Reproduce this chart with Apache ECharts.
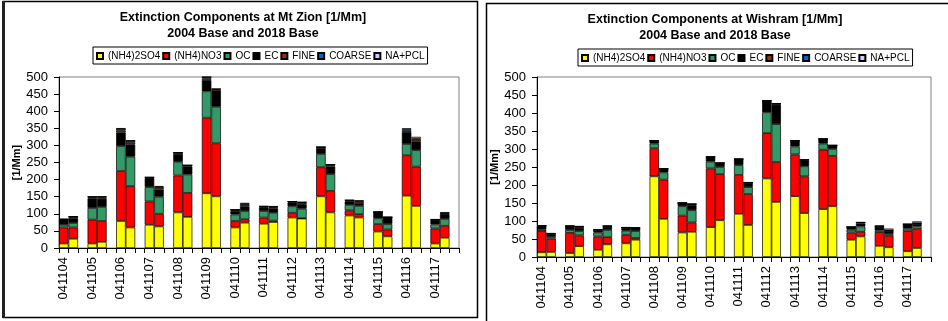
<!DOCTYPE html>
<html>
<head>
<meta charset="utf-8">
<script src="https://cdn.jsdelivr.net/npm/echarts@6/dist/echarts.min.js"></script>
<style>
  html, body { margin: 0; padding: 0; background: #fff; }
  #chart { width: 948px; height: 321px; }
</style>
</head>
<body>
<div id="chart"></div>
<script>
// sample dates, each has a 2004 base bar and a 2018 base bar
const dates = ['041104', '041105', '041106', '041107', '041108', '041109', '041110',
  '041111', '041112', '041113', '041114', '041115', '041116', '041117'];
const components = ['(NH4)2SO4', '(NH4)NO3', 'OC', 'EC', 'FINE', 'COARSE', 'NA+PCL'];
const compColors = ['#FFFF00', '#FF0000', '#339966', '#000000', '#993300', '#0066CC', '#CCCCFF'];
const yTicks = [0, 50, 100, 150, 200, 250, 300, 350, 400, 450, 500];

// Mt Zion, pairs per date: [2004, 2018]
const zionSO4 = [13, 27, 13, 18, 79, 60, 68, 63, 104, 91, 160, 151, 60, 74, 71, 76, 89, 86, 151, 104, 95, 89, 48, 34, 153, 123, 13, 30];
const zionNO3 = [47, 33, 70, 61, 146, 121, 68, 37, 108, 70, 221, 155, 19, 10, 18, 4, 14, 1, 85, 63, 15, 10, 22, 20, 118, 115, 44, 35];
const zionOC = [8, 13, 34, 41, 73, 86, 42, 50, 40, 54, 77, 107, 19, 24, 19, 23, 19, 28, 39, 49, 16, 24, 17, 16, 33, 48, 12, 20];
const zionEC = [15, 14, 28, 24, 40, 36, 25, 21, 23, 23, 33, 47, 10, 14, 10, 13, 11, 13, 17, 22, 10, 8, 18, 19, 35, 26, 12, 14];
const zionFINE = [1, 4, 3, 4, 6, 6, 1, 5, 4, 3, 5, 3, 3, 4, 2, 3, 2, 4, 3, 4, 2, 5, 0, 1, 4, 6, 1, 2];
const zionCOARSE = [0, 1, 2, 2, 5, 5, 3, 3, 0, 1, 4, 2, 1, 3, 2, 2, 1, 2, 0, 2, 2, 2, 0, 0, 4, 2, 1, 1];
const zionNAPCL = [0, 0, 0, 0, 1, 0, 0, 2, 0, 0, 0, 0, 0, 3, 0, 1, 0, 0, 0, 0, 0, 0, 0, 0, 3, 5, 1, 3];

// Wishram
const wishSO4 = [13, 14, 11, 30, 20, 35, 38, 48, 224, 106, 68, 70, 83, 102, 120, 89, 218, 153, 169, 122, 133, 141, 48, 57, 31, 27, 16, 25];
const wishNO3 = [59, 37, 56, 30, 37, 20, 24, 5, 78, 109, 47, 26, 163, 128, 108, 86, 126, 111, 116, 102, 165, 140, 20, 13, 38, 32, 56, 53];
const wishOC = [4, 5, 8, 12, 11, 20, 11, 19, 13, 20, 26, 34, 19, 20, 27, 19, 58, 105, 22, 28, 17, 19, 8, 15, 5, 5, 7, 7];
const wishEC = [10, 7, 10, 9, 7, 9, 8, 8, 7, 9, 9, 14, 12, 10, 16, 12, 31, 54, 15, 16, 12, 10, 7, 8, 10, 8, 11, 7];
const wishFINE = [1, 1, 1, 3, 1, 2, 1, 1, 1, 1, 0, 3, 1, 1, 1, 1, 1, 3, 1, 2, 1, 0, 0, 3, 1, 1, 1, 1];
const wishCOARSE = [0, 1, 0, 1, 0, 0, 0, 0, 0, 0, 0, 0, 0, 0, 0, 0, 0, 0, 0, 0, 0, 0, 0, 0, 0, 1, 0, 1];
const wishNAPCL = [0, 1, 0, 0, 0, 0, 0, 0, 0, 0, 0, 0, 0, 0, 0, 0, 0, 0, 0, 0, 0, 0, 0, 0, 3, 5, 0, 5];

// three slots per date: 2004 bar, 2018 bar, empty gap
const categories = [];
dates.forEach(d => categories.push(d, d + ' 2018', d + ' gap'));

const toSlots = (pairs) => {
    const out = [];
    for (let i = 0; i < pairs.length; i += 2) out.push(pairs[i], pairs[i + 1], '-');
    return out;
};

const zion = [zionSO4, zionNO3, zionOC, zionEC, zionFINE, zionCOARSE, zionNAPCL];
const wish = [wishSO4, wishNO3, wishOC, wishEC, wishFINE, wishCOARSE, wishNAPCL];

const font = 'Arial, "Liberation Sans", sans-serif';

const makeX = (gridIndex) => ({
    type: 'category',
    gridIndex,
    data: categories,
    axisLine: { lineStyle: { color: '#000', width: 1 } },
    axisTick: { show: true, interval: 0, length: 5, lineStyle: { color: '#000' } },
    axisLabel: { interval: 2, rotate: 90, margin: 9, color: '#000', fontSize: 13, fontFamily: font }
});

const makeY = (gridIndex) => ({
    type: 'value',
    gridIndex,
    min: 0, max: 500, interval: 50,
    name: '[1/Mm]',
    nameLocation: 'middle',
    nameRotate: 90,
    nameGap: 36,
    nameTextStyle: { fontSize: 11, fontWeight: 'bold', color: '#000', fontFamily: font },
    axisLine: { show: true, lineStyle: { color: '#000', width: 1 } },
    axisTick: { show: true, length: 5, lineStyle: { color: '#000' } },
    axisLabel: { margin: 11, color: '#000', fontSize: 13, fontFamily: font },
    splitLine: { show: false }
});

const makeSeries = (vals, idx, stack) => vals.map((arr, i) => ({
    name: components[i],
    type: 'bar',
    stack,
    xAxisIndex: idx,
    yAxisIndex: idx,
    barCategoryGap: '0%',
    data: toSlots(arr),
    itemStyle: { color: compColors[i], borderColor: '#000', borderWidth: 0.7 },
    emphasis: { disabled: true }
}));

const legendBase = {
    data: components,
    icon: 'rect',
    orient: 'horizontal',
    itemWidth: 6,
    itemHeight: 6,
    itemGap: 2,
    padding: [4, 3, 3, 3],
    borderColor: '#000',
    borderWidth: 1,
    textStyle: { fontSize: 10, color: '#000', fontFamily: font }
};

const titleStyle = { fontSize: 12.5, fontWeight: 'bold', color: '#000', fontFamily: font, lineHeight: 15.5 };

const chart = echarts.init(document.getElementById('chart'), null, { renderer: 'canvas' });

chart.setOption({
    animation: false,
    backgroundColor: '#fff',
    textStyle: { fontFamily: font },
    title: [
        { text: 'Extinction Components at Mt Zion [1/Mm]\n2004 Base and 2018 Base', left: 243, top: 10, textAlign: 'center', textStyle: titleStyle, padding: 0 },
        { text: 'Extinction Components at Wishram [1/Mm]\n2004 Base and 2018 Base', left: 715, top: 12, textAlign: 'center', textStyle: titleStyle, padding: 0 }
    ],
    legend: [
        Object.assign({}, legendBase, { left: 93, top: 47 }),
        Object.assign({}, legendBase, { left: 578, top: 49 })
    ],
    grid: [
        { left: 59, top: 77, width: 400, height: 171, show: true, borderColor: '#808080', borderWidth: 1, backgroundColor: '#fff' },
        { left: 537, top: 77, width: 394, height: 180, show: true, borderColor: '#808080', borderWidth: 1, backgroundColor: '#fff' }
    ],
    xAxis: [makeX(0), makeX(1)],
    yAxis: [makeY(0), makeY(1)],
    series: [...makeSeries(zion, 0, 'zion'), ...makeSeries(wish, 1, 'wish')],
    graphic: [
        { type: 'rect', shape: { x: 3.5, y: 1.5, width: 474, height: 316 }, style: { fill: null, stroke: '#000', lineWidth: 1.5 }, silent: true },
        { type: 'rect', shape: { x: 2, y: 1, width: 3, height: 317 }, style: { fill: '#222' }, silent: true },
        { type: 'rect', shape: { x: 486.5, y: 3.5, width: 470, height: 330 }, style: { fill: null, stroke: '#000', lineWidth: 1.5 }, silent: true }
    ]
});
</script>
</body>
</html>
